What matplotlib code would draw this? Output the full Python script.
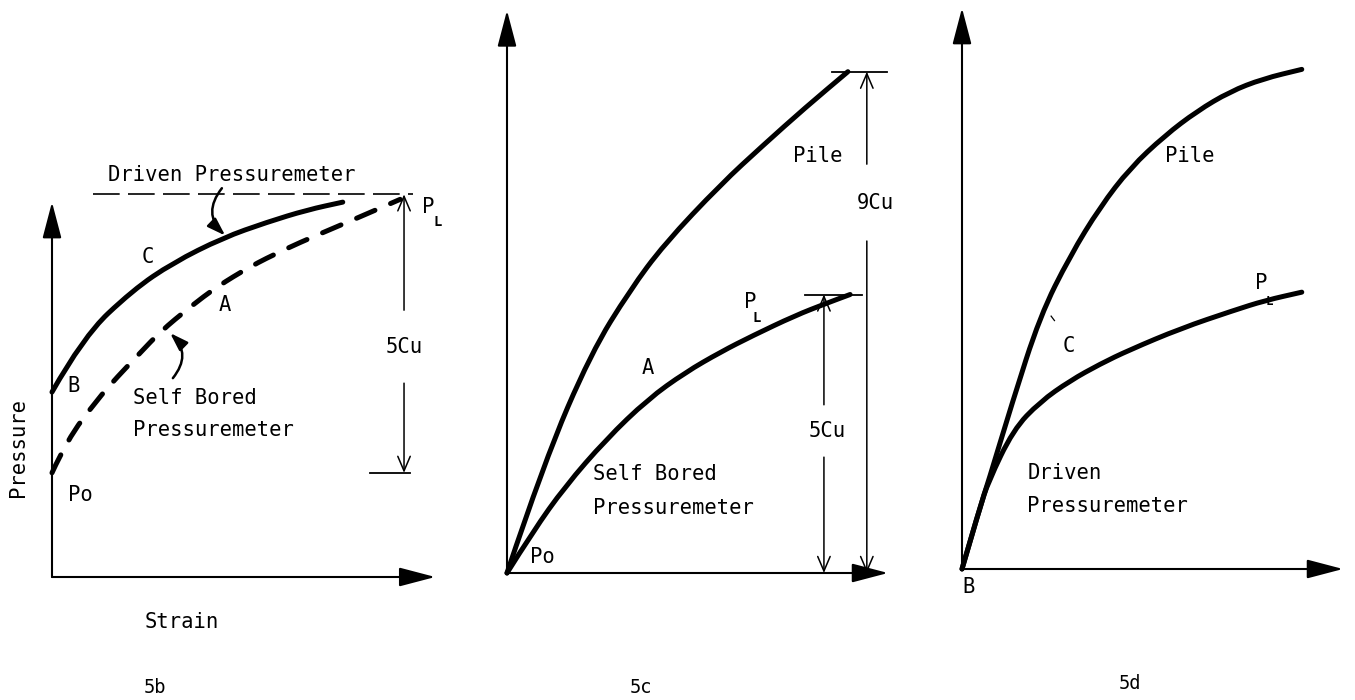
import matplotlib
matplotlib.use("Agg")
import matplotlib.pyplot as plt
from matplotlib.path import Path
from matplotlib.patches import PathPatch

# Figure geometry
W, H, DPI = 1355, 700, 100
UNIT = 55.7  # pixels per unit (pressure in Cu, strain in arbitrary units)

FONT = "DejaVu Sans Mono"
INK = "black"
TXT = 14.8

# ---------------- 5b : driven vs self bored pressuremeter ----------------
b_driven_strain = [0.0, 0.56, 1.45, 2.17, 3.07, 3.86, 4.58, 5.22]
b_driven_press = [3.32, 4.31, 5.15, 5.64, 6.09, 6.37, 6.59, 6.73]
b_selfbored_strain = [0.0, 0.27, 0.81, 1.17, 1.58, 1.94, 2.48, 2.96, 3.55, 4.15, 4.76, 5.40, 6.25]
b_selfbored_press = [1.87, 2.46, 3.18, 3.59, 4.02, 4.40, 4.85, 5.21, 5.57, 5.87, 6.14, 6.41, 6.78]
b_po = 1.87
b_limit = b_po + 5.0  # limit pressure P_L = Po + 5Cu

# ---------------- 5c : pile vs self bored pressuremeter ----------------
c_pile_strain = [0.0, 0.67, 1.51, 2.21, 2.82, 3.84, 4.60, 5.35, 6.12]
c_pile_press = [0.0, 2.00, 3.95, 5.08, 5.90, 6.98, 7.68, 8.35, 9.0]
c_selfbored_strain = [0.0, 0.47, 1.04, 1.78, 2.53, 3.20, 3.84, 4.41, 5.17, 5.73, 6.16]
c_selfbored_press = [0.0, 0.75, 1.55, 2.40, 3.12, 3.60, 3.97, 4.26, 4.62, 4.84, 5.0]
c_pile_limit = 9.0
c_pm_limit = 5.0

# ---------------- 5d : pile vs driven pressuremeter ----------------
d_pile_strain = [0.0, 0.32, 0.47, 0.90, 1.40, 1.94, 2.48, 3.02, 3.64, 4.22, 4.81, 5.40, 6.10]
d_pile_press = [0.0, 1.10, 1.56, 2.98, 4.54, 5.62, 6.50, 7.20, 7.78, 8.22, 8.57, 8.80, 8.97]
d_driven_strain = [0.0, 0.32, 0.47, 0.92, 1.40, 1.94, 2.48, 3.00, 3.93, 4.87, 5.44, 6.10]
d_driven_press = [0.0, 1.10, 1.56, 2.50, 3.00, 3.38, 3.68, 3.93, 4.32, 4.64, 4.82, 4.97]

# Panel origins in figure pixels (from top-left) and axis lengths
ORIGINS = {"b": (52, 577), "c": (507, 573), "d": (962, 569)}
AXIS_LEN = {"b": (6.88, 6.73), "c": (6.84, 10.1), "d": (6.84, 10.07)}

fig = plt.figure(figsize=(W / DPI, H / DPI), dpi=DPI)
fig.patch.set_facecolor("white")


def make_panel(key):
    ox, oy = ORIGINS[key]
    ax = fig.add_axes([0, 0, 1, 1])
    ax.set_xlim(-ox / UNIT, (W - ox) / UNIT)
    ax.set_ylim(-(H - oy) / UNIT, oy / UNIT)
    ax.axis("off")
    ax.patch.set_visible(False)
    xmax, ymax = AXIS_LEN[key]
    style = "-|>,head_length=1.6,head_width=0.42"
    for tip in [(xmax, 0.0), (0.0, ymax)]:
        ax.annotate("", xy=tip, xytext=(0.0, 0.0),
                    arrowprops=dict(arrowstyle=style, mutation_scale=14, lw=1.5,
                                    color=INK, shrinkA=0, shrinkB=0))
    return ax


def smooth_curve(ax, xs, ys, dashed=False, lw=3.6):
    """Draw a pressure-strain curve as a smooth quadratic-Bezier path
    running through the end points and guided by the interior points."""
    pts = list(zip(xs, ys))
    verts = [pts[0]]
    codes = [Path.MOVETO]
    for i in range(1, len(pts) - 1):
        mid = ((pts[i][0] + pts[i + 1][0]) / 2, (pts[i][1] + pts[i + 1][1]) / 2)
        verts += [pts[i], mid]
        codes += [Path.CURVE3, Path.CURVE3]
    verts.append(pts[-1])
    codes.append(Path.LINETO)
    patch = PathPatch(Path(verts, codes), fill=False, edgecolor=INK, lw=lw,
                      capstyle="round", joinstyle="round")
    if dashed:
        patch.set_linestyle((0, (4.0, 3.4)))
    ax.add_patch(patch)


def dimension(ax, x, y_bottom, y_top, gap_lo, gap_hi, text, label_x=None):
    style = "->,head_length=0.75,head_width=0.32"
    props = dict(arrowstyle=style, mutation_scale=14, lw=1.1, color=INK,
                 shrinkA=0, shrinkB=0)
    ax.annotate("", xy=(x, y_top), xytext=(x, gap_hi), arrowprops=props)
    ax.annotate("", xy=(x, y_bottom), xytext=(x, gap_lo), arrowprops=props)
    lx = x if label_x is None else label_x
    ax.text(lx, (gap_lo + gap_hi) / 2, text, fontfamily=FONT, fontsize=TXT,
            ha="center", va="center", color=INK)


def label(ax, x, y, s, size=TXT, ha="left", **kw):
    ax.text(x, y, s, fontfamily=FONT, fontsize=size, ha=ha, va="center",
            color=INK, **kw)


# ---- 5b ----
ax = make_panel("b")
smooth_curve(ax, b_driven_strain, b_driven_press)
smooth_curve(ax, b_selfbored_strain, b_selfbored_press, dashed=True)
ax.plot([0.74, 6.48], [b_limit, b_limit], color=INK, lw=1.2, dashes=(16, 5))
dimension(ax, 6.32, b_po, b_limit, 3.48, 4.79, "5Cu")
ax.plot([5.71, 6.43], [b_po, b_po], color=INK, lw=1.3)
label(ax, 3.23, 7.22, "Driven Pressuremeter", ha="center")
arrow_props = dict(arrowstyle="-|>,head_length=0.9,head_width=0.3",
                   mutation_scale=12, lw=1.8, color=INK, shrinkA=0, shrinkB=0,
                   connectionstyle="arc3,rad=0.45")
ax.annotate("", xy=(3.11, 6.13), xytext=(3.05, 6.98), arrowprops=arrow_props)
ax.annotate("", xy=(2.12, 4.38), xytext=(2.17, 3.57), arrowprops=arrow_props)
label(ax, 1.72, 5.75, "C", ha="center")
label(ax, 3.11, 4.88, "A", ha="center")
label(ax, 0.38, 3.43, "B", ha="center")
label(ax, 1.45, 3.21, "Self Bored")
label(ax, 1.45, 2.64, "Pressuremeter")
label(ax, 0.29, 1.47, "Po")
label(ax, 6.75, 6.64, "P", ha="center")
label(ax, 6.93, 6.37, "L", size=10, ha="center", fontweight="bold")
label(ax, -0.61, 2.32, "Pressure", ha="center", rotation=90)
label(ax, 2.33, -0.81, "Strain", ha="center")
label(ax, 1.85, -1.99, "5b", size=13.5, ha="center")

# ---- 5c ----
ax = make_panel("c")
smooth_curve(ax, c_pile_strain, c_pile_press)
smooth_curve(ax, c_selfbored_strain, c_selfbored_press)
ax.plot([5.83, 6.82], [c_pile_limit, c_pile_limit], color=INK, lw=1.3)
ax.plot([5.35, 6.37], [c_pm_limit, c_pm_limit], color=INK, lw=1.3)
dimension(ax, 6.46, 0.0, c_pile_limit, 5.96, 7.34, "9Cu", label_x=6.62)
dimension(ax, 5.69, 0.0, c_pm_limit, 2.08, 3.02, "5Cu", label_x=5.75)
label(ax, 5.58, 7.49, "Pile", ha="center")
label(ax, 4.36, 4.87, "P", ha="center")
label(ax, 4.49, 4.58, "L", size=10, ha="center", fontweight="bold")
label(ax, 2.53, 3.68, "A", ha="center")
label(ax, 1.54, 1.78, "Self Bored")
label(ax, 1.54, 1.17, "Pressuremeter")
label(ax, 0.41, 0.29, "Po")
label(ax, 2.41, -2.06, "5c", size=13.5, ha="center")

# ---- 5d ----
ax = make_panel("d")
smooth_curve(ax, d_pile_strain, d_pile_press)
smooth_curve(ax, d_driven_strain, d_driven_press)
ax.plot([1.60, 1.66], [4.54, 4.46], color=INK, lw=0.9)
label(ax, 4.09, 7.41, "Pile", ha="center")
label(ax, 5.37, 5.14, "P", ha="center")
label(ax, 5.52, 4.80, "L", size=9, ha="center", fontweight="bold")
label(ax, 1.92, 4.00, "C", ha="center")
label(ax, 1.17, 1.72, "Driven")
label(ax, 1.17, 1.13, "Pressuremeter")
label(ax, 0.11, -0.32, "B", ha="center")
label(ax, 3.02, -2.05, "5d", size=13.5, ha="center")

fig.savefig("out.png", dpi=DPI, facecolor="white")
